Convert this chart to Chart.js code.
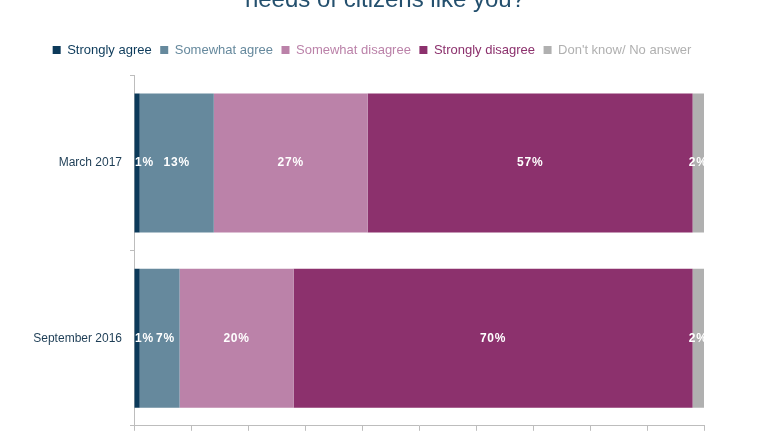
<!DOCTYPE html>
<html>
<head>
<meta charset="utf-8">
<script src="https://cdn.jsdelivr.net/npm/chart.js@4"></script>
<style>
body { margin: 0; background: #fff; overflow: hidden; }
#wrap { position: relative; width: 770px; height: 433px; overflow: hidden; }
.title { position: absolute; top: -15px; left: 0; width: 770px; text-align: center;
  font: 24px "Liberation Sans", Arial, sans-serif; color: #24506e; }
</style>
</head>
<body>
<div id="wrap">
  <div class="title">needs of citizens like you?</div>
  <canvas id="myChart" width="770" height="441"></canvas>
</div>
<script>
// data
const periods = ['March 2017', 'September 2016']
const series = ['Strongly agree', 'Somewhat agree', 'Somewhat disagree', 'Strongly disagree', "Don't know/ No answer"]
const stronglyAgree = [1, 1]
const somewhatAgree = [13, 7]
const somewhatDisagree = [27, 20]
const stronglyDisagree = [57, 70]
const dontKnow = [2, 2]
const colors = ['#0c3a5a', '#66899d', '#bb82a9', '#8c316d', '#b0b0b0']

const values = [stronglyAgree, somewhatAgree, somewhatDisagree, stronglyDisagree, dontKnow]

// percent labels inside the bars (nudged right so small ones don't collide)
const barLabels = {
    id: 'barLabels',
    afterDatasetsDraw(chart) {
        const ctx = chart.ctx
        ctx.save()
        ctx.font = 'bold 12px "Liberation Sans", Arial, sans-serif'
        ctx.letterSpacing = '0.8px'
        ctx.fillStyle = '#ffffff'
        ctx.textAlign = 'center'
        ctx.textBaseline = 'middle'
        const lastRight = {}
        chart.data.datasets.forEach((ds, i) => {
            chart.getDatasetMeta(i).data.forEach((bar, j) => {
                const text = ds.data[j] + '%'
                const w = ctx.measureText(text).width
                let x = (bar.x + bar.base) / 2
                const minLeft = lastRight[j] !== undefined ? lastRight[j] + 2 : chart.chartArea.left + 1
                if (x - w / 2 < minLeft) x = minLeft + w / 2
                lastRight[j] = x + w / 2
                ctx.fillText(text, x, bar.y)
            })
        })
        ctx.restore()
    }
}

// extra room under the legend, and legend moved a bit right
const legendGap = {
    id: 'legendGap',
    beforeInit(chart) {
        const fit = chart.legend.fit
        chart.legend.fit = function () {
            fit.call(this)
            this.height += 9
        }
    },
    afterLayout(chart) {
        chart.legend.left += 20
        chart.legend.right += 20
    }
}

const ctx = document.getElementById('myChart').getContext('2d')
const myChart = new Chart(ctx, {
    type: 'bar',
    data: {
        labels: periods,
        datasets: series.map((name, i) => ({
            label: name,
            data: values[i],
            backgroundColor: colors[i],
            borderWidth: 0,
            barPercentage: 0.794,
            categoryPercentage: 1
        }))
    },
    options: {
        indexAxis: 'y',
        responsive: false,
        animation: false,
        layout: { padding: { top: 35, right: 66, left: 0, bottom: 0 } },
        plugins: {
            tooltip: { enabled: false },
            legend: {
                position: 'top',
                labels: {
                    boxWidth: 8,
                    boxHeight: 8,
                    padding: 8.5,
                    font: { family: '"Liberation Sans", Arial, sans-serif', size: 13 },
                    generateLabels(chart) {
                        return chart.data.datasets.map((ds, i) => ({
                            text: ds.label,
                            fillStyle: colors[i],
                            strokeStyle: colors[i],
                            lineWidth: 0,
                            fontColor: colors[i],
                            hidden: false,
                            datasetIndex: i
                        }))
                    }
                }
            }
        },
        scales: {
            x: {
                stacked: true,
                min: 0,
                max: 100,
                ticks: { display: false, stepSize: 10 },
                grid: { drawOnChartArea: false, drawTicks: true, tickLength: 5, color: '#bdbdbd' },
                border: { color: '#bdbdbd' },
                afterFit(scale) { scale.height = 0 }
            },
            y: {
                stacked: true,
                ticks: {
                    color: '#1d3d55',
                    padding: 8,
                    font: { family: '"Liberation Sans", Arial, sans-serif', size: 12 }
                },
                grid: { drawOnChartArea: false, drawTicks: true, tickLength: 4, offset: true, color: '#bdbdbd' },
                border: { color: '#bdbdbd' },
                afterFit(scale) { scale.width = 134 }
            }
        }
    },
    plugins: [barLabels, legendGap]
})
</script>
</body>
</html>
